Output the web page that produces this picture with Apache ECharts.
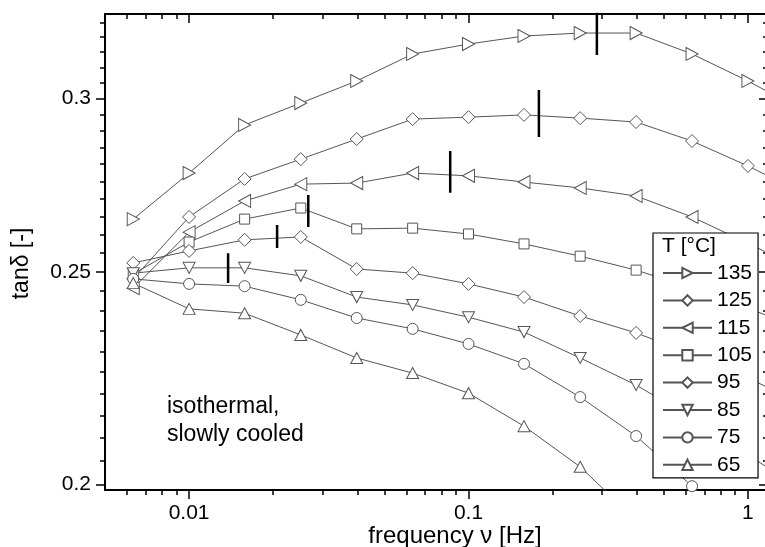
<!DOCTYPE html>
<html><head><meta charset="utf-8">
<script src="https://cdn.jsdelivr.net/npm/echarts@6/dist/echarts.min.js"></script>
<style>html,body{margin:0;padding:0;background:#fff}#c{width:765px;height:547px}</style>
</head><body><div id="c"></div>
<script>
// ---- data ----
const freq = [0.00631, 0.01, 0.0158, 0.0251, 0.0398, 0.0631, 0.1, 0.158, 0.251, 0.398, 0.631, 1.0, 1.585];
const temps = ['135', '125', '115', '105', '95', '85', '75', '65'];
const t135 = [0.2643, 0.2774, 0.2918, 0.2986, 0.3056, 0.3144, 0.3177, 0.3204, 0.3214, 0.3214, 0.3144, 0.3056, 0.2961];
const t125 = [0.2482, 0.2649, 0.2757, 0.2815, 0.2875, 0.2936, 0.2942, 0.2949, 0.2939, 0.2927, 0.2869, 0.2795, 0.2714];
const t115 = [0.2458, 0.2607, 0.2694, 0.2742, 0.2745, 0.2774, 0.2766, 0.2748, 0.2731, 0.2708, 0.2649, 0.2577, 0.2503];
const t105 = [0.2495, 0.2580, 0.2643, 0.2674, 0.2616, 0.2618, 0.2602, 0.2575, 0.2542, 0.2505, 0.2458, 0.2407, 0.2352];
const t95  = [0.2524, 0.2556, 0.2586, 0.2594, 0.2508, 0.2497, 0.2469, 0.2435, 0.2387, 0.2345, 0.2293, 0.2236, 0.2176];
const t85  = [0.2497, 0.2511, 0.2511, 0.2490, 0.2435, 0.2415, 0.2384, 0.2347, 0.2284, 0.2220, 0.2144, 0.2063, 0.1985];
const t75  = [0.2482, 0.2469, 0.2463, 0.2428, 0.2382, 0.2355, 0.2318, 0.2270, 0.2192, 0.2104, 0.1996, 0.1886, 0.1780];
const t65  = [0.2471, 0.2405, 0.2394, 0.2340, 0.2284, 0.2248, 0.2201, 0.2126, 0.2037, 0.1926, 0.1820, 0.1720, 0.1620];
const tanDelta = [t135, t125, t115, t105, t95, t85, t75, t65];

// peak markers (vertical bars)
const peakFreq = [0.288, 0.1786, 0.086, 0.0267, 0.02065, 0.01379];
const peakLow  = [0.3141, 0.2881, 0.2717, 0.2621, 0.2564, 0.2471];
const peakHigh = [0.3285, 0.3027, 0.2839, 0.2711, 0.2627, 0.2550];

// ticks
const xTickValues = [0.01, 0.1, 1];
const xTickLabels = ['0.01', '0.1', '1'];
const xMinorTicks = [0.006, 0.007, 0.008, 0.009, 0.02, 0.03, 0.04, 0.05, 0.06, 0.07, 0.08, 0.09, 0.2, 0.3, 0.4, 0.5, 0.6, 0.7, 0.8, 0.9];
const yTickValues = [0.2, 0.25, 0.3];
const yTickLabels = ['0.2', '0.25', '0.3'];
const yMinorTicks = [0.205, 0.21, 0.215, 0.22, 0.225, 0.23, 0.235, 0.24, 0.245, 0.255, 0.26, 0.265, 0.27, 0.275, 0.28, 0.285, 0.29, 0.295, 0.305, 0.31, 0.315, 0.32, 0.325];
const xRange = [0.005, 1.18];
const yRange = [0.1988, 0.3279];

// ---- style ----
const FONT = '"Liberation Sans", Arial, sans-serif';
const L = Math.log10;
const symbols = [
  'path://M0,0L10,5L0,10Z',   // right triangle
  'diamond',
  'path://M10,0L0,5L10,10Z',  // left triangle
  'rect',
  'diamond',
  'path://M0,0L10,0L5,10Z',   // down triangle
  'circle',
  'path://M5,0L10,10L0,10Z'   // up triangle
];
const symbolSizes = [[12, 13], [13, 13], [12, 13], [10, 10], [13, 13], [12, 11], [11, 11], [12, 11]];

function lab(v, vals, labs) {
  for (let i = 0; i < vals.length; i++) if (Math.abs(L(vals[i]) - v) < 1e-6) return labs[i];
  return '';
}

function deco(kind, pos, ticks, len, inside, showLine, extra) {
  const r = kind === 'x' ? xRange : yRange;
  return Object.assign({
    type: 'value', position: pos, min: L(r[0]), max: L(r[1]),
    axisLine: { show: showLine, onZero: false, lineStyle: { color: '#000', width: 2 } },
    axisTick: { show: true, customValues: ticks.map(L), length: len, inside: inside, lineStyle: { color: '#000', width: 1.5 } },
    axisLabel: { show: false },
    splitLine: { show: false }, splitArea: { show: false }
  }, extra || {});
}

const chart = echarts.init(document.getElementById('c'), null, { renderer: 'canvas' });

const series = temps.map((name, i) => ({
  type: 'line', name: name,
  data: freq.map((f, j) => [f, tanDelta[i][j]]),
  xAxisIndex: 0, yAxisIndex: 0,
  symbol: symbols[i], symbolSize: symbolSizes[i],
  lineStyle: { color: '#555', width: 1 },
  itemStyle: { color: '#fff', borderColor: '#555', borderWidth: 1 },
  emphasis: { disabled: true },
  z: 2
}));
peakFreq.forEach((f, i) => {
  series.push({
    type: 'line', name: 'peak' + i,
    data: [[f, peakLow[i]], [f, peakHigh[i]]],
    xAxisIndex: 0, yAxisIndex: 0,
    symbol: 'none', silent: true,
    lineStyle: { color: '#000', width: 2.5 },
    emphasis: { disabled: true },
    z: 5
  });
});

chart.setOption({
  animation: false,
  grid: { left: 105, top: 14, right: -3, bottom: 57, containLabel: false, outerBoundsMode: 'none' },
  xAxis: [
    { type: 'log', min: xRange[0], max: xRange[1], show: false },
    deco('x', 'bottom', xTickValues, 9, false, true, {
      axisLabel: { show: true, customValues: xTickValues.map(L), formatter: v => lab(v, xTickValues, xTickLabels),
        margin: 13, fontSize: 21, color: '#000', fontFamily: FONT },
      name: 'frequency \u03bd [Hz]', nameLocation: 'middle', nameGap: 34, nameMoveOverlap: false,
      nameTextStyle: { fontSize: 24, color: '#000', fontFamily: FONT, padding: [0, 0, 0, 37] }
    }),
    deco('x', 'bottom', xMinorTicks, 5, false, false),
    deco('x', 'top', xTickValues, 9, true, true),
    deco('x', 'top', xMinorTicks, 5, true, false)
  ],
  yAxis: [
    { type: 'log', min: yRange[0], max: yRange[1], show: false },
    deco('y', 'left', yTickValues, 9, false, true, {
      axisLabel: { show: true, customValues: yTickValues.map(L), formatter: v => lab(v, yTickValues, yTickLabels),
        margin: 14, fontSize: 21, color: '#000', fontFamily: FONT },
      name: 'tan\u03b4 [-]', nameLocation: 'middle', nameGap: 72, nameMoveOverlap: false,
      nameTextStyle: { fontSize: 23, color: '#000', fontFamily: FONT, padding: [0, 23, 0, 0] }
    }),
    deco('y', 'left', yMinorTicks, 5, false, false),
    deco('y', 'right', yTickValues, 9, true, true),
    deco('y', 'right', yMinorTicks, 5, true, false)
  ],
  legend: {
    data: temps, orient: 'vertical', left: 653, top: 233,
    itemWidth: 49, itemHeight: 13, itemGap: 5.4,
    padding: [29, 6, 2, 9],
    backgroundColor: '#fff', borderColor: '#000', borderWidth: 1.2, borderRadius: 0,
    selectedMode: false,
    textStyle: { fontSize: 21, fontFamily: FONT, color: '#000', lineHeight: 22 }
  },
  graphic: [
    { type: 'text', left: 662, top: 236, z: 100,
      style: { text: 'T [\u00b0C]', fontSize: 21, fontFamily: FONT, fill: '#000' } },
    { type: 'text', left: 167, top: 393, z: 100,
      style: { text: 'isothermal,\nslowly cooled', fontSize: 23, fontFamily: FONT, lineHeight: 28, fill: '#000' } }
  ],
  series: series
});
</script></body></html>
